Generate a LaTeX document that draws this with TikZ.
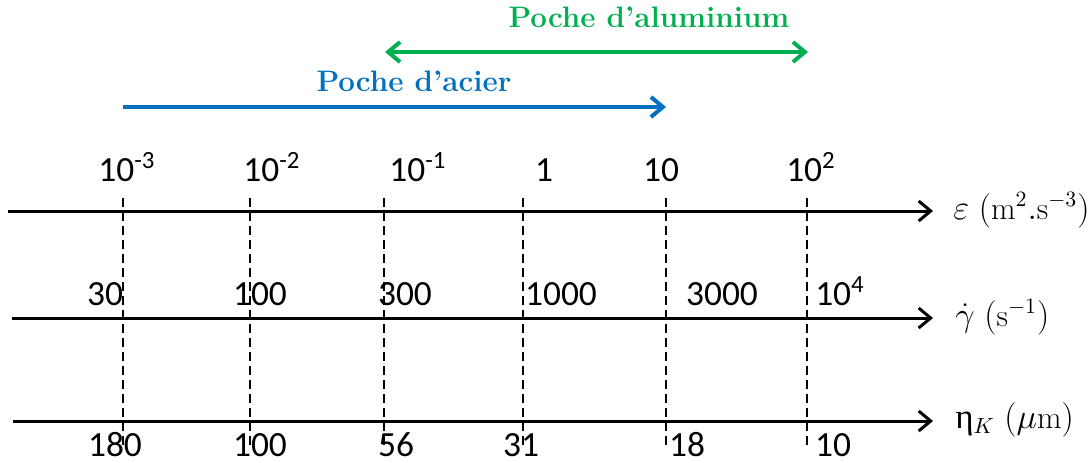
\documentclass[tikz,border=0pt]{standalone}
\usepackage{fontspec}
\newfontfamily\carl{Carlito}
\newfontfamily\lserif{Liberation Serif}
\usetikzlibrary{arrows.meta}
\definecolor{alugreen}{RGB}{0,176,80}
\definecolor{steelblue}{RGB}{0,112,192}
\begin{document}
\begin{tikzpicture}[x=0.5pt,y=-0.5pt,
  axisline/.style={line width=1.5pt,-{Straight Barb[length=6pt,width=10pt]}},
  guide/.style={line width=0.9pt,dash pattern=on 4.5pt off 2.5pt},
  rangearrow/.style={line width=2pt,{Straight Barb[length=6pt,width=10pt]}-{Straight Barb[length=6pt,width=10pt]}},
  rangearrowr/.style={line width=2pt,-{Straight Barb[length=6pt,width=10pt]}},
  ticklab/.style={anchor=base,inner sep=0pt,font=\carl\fontsize{17.7}{20}\selectfont},
  axlab/.style={anchor=base west,inner sep=0pt,font=\fontsize{15.9}{18}\selectfont},
  title/.style={anchor=base,inner sep=0pt,font=\bfseries\fontsize{14.8}{17}\selectfont}
]
\useasboundingbox (0,0) rectangle (1090,462);
% axes
\coordinate (e0) at (8,211);   \coordinate (e1) at (933,211);
\coordinate (g0) at (12,318);  \coordinate (g1) at (933,318);
\coordinate (n0) at (13,421);  \coordinate (n1) at (933,421);
\draw[axisline] (e0) -- (e1);
\draw[axisline] (g0) -- (g1);
\draw[axisline] (n0) -- (n1);
\node[axlab] (elab) at (953,219) {$\varepsilon\ (\mathrm{m}^2.\mathrm{s}^{-3})$};
\node[axlab] (glab) at (955,326) {$\dot\gamma\ (\mathrm{s}^{-1})$};
\node[axlab] (nlab) at (955,428) {{\lserif\fontsize{17.5}{18}\selectfont η}$_K\ (\mu\mathrm{m})$};
% guides
\foreach \i/\x in {1/123,2/250,3/384,4/523,5/666,6/807}{
  \coordinate (t\i) at (\x,198);
  \coordinate (b\i) at (\x,447);
  \draw[guide] (t\i) -- (b\i);
}
% top labels
\node[ticklab] (e-3) at (127,181) {10\textsuperscript{-3}};
\node[ticklab] (e-2) at (272,181) {10\textsuperscript{-2}};
\node[ticklab] (e-1) at (418,181) {10\textsuperscript{-1}};
\node[ticklab] (e0l) at (544,181) {1};
\node[ticklab] (e1l) at (661,181) {10};
\node[ticklab] (e2l) at (811,181) {10\textsuperscript{2}};
% middle labels
\node[ticklab] (g30) at (105,305) {30};
\node[ticklab] (g100) at (260,305) {100};
\node[ticklab] (g300) at (405,305) {300};
\node[ticklab] (g1000) at (561,305) {1000};
\node[ticklab] (g3000) at (722,305) {3000};
\node[ticklab] (g1e4) at (840,305) {10\textsuperscript{4}};
% bottom labels
\node[ticklab] (n180) at (115,456) {180};
\node[ticklab] (n100) at (260,456) {100};
\node[ticklab] (n56) at (396,456) {56};
\node[ticklab] (n31) at (521,456) {31};
\node[ticklab] (n18) at (687,456) {18};
\node[ticklab] (n10) at (833,456) {10};
% ranges
\coordinate (al0) at (385,52); \coordinate (al1) at (808,52);
\draw[rangearrow,alugreen] (al0) -- (al1);
\node[title,text=alugreen] (alu) at (649,27) {Poche d’aluminium};
\coordinate (ac0) at (123,107); \coordinate (ac1) at (666,107);
\draw[rangearrowr,steelblue] (ac0) -- (ac1);
\node[title,text=steelblue] (aci) at (414,91) {Poche d’acier};
\end{tikzpicture}
\end{document}
